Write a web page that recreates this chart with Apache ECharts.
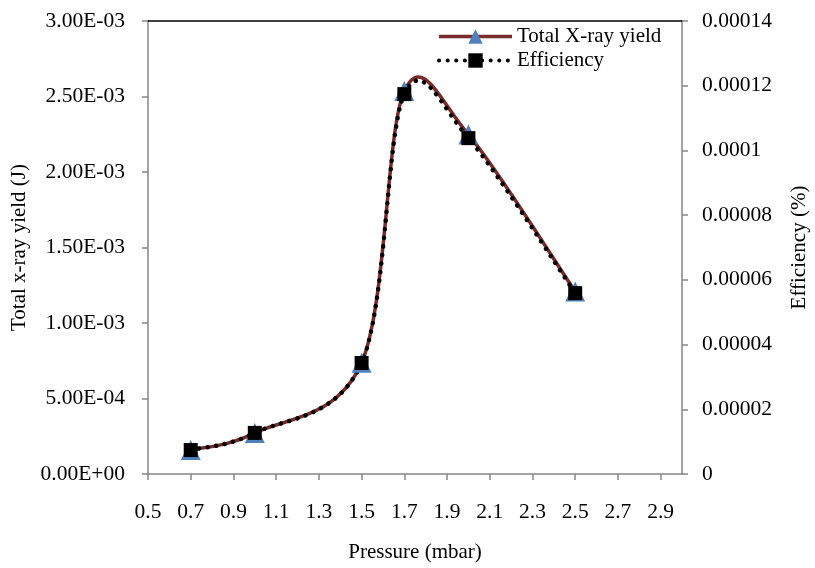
<!DOCTYPE html>
<html>
<head>
<meta charset="utf-8">
<script src="https://cdn.jsdelivr.net/npm/echarts@6/dist/echarts.min.js"></script>
<style>html,body{margin:0;padding:0;background:#fff}#c{width:815px;height:568px}</style>
</head>
<body>
<div id="c"></div>
<script>
// Data
const pressure = [0.7, 1.0, 1.5, 1.7, 2.0, 2.5];
const xrayYield = [1.59e-4, 2.72e-4, 7.37e-4, 2.537e-3, 2.248e-3, 1.208e-3];
const efficiency = [7.4e-6, 1.27e-5, 3.43e-5, 1.174e-4, 1.038e-4, 5.59e-5];
const seriesNames = ['Total X-ray yield', 'Efficiency'];
const axisTitles = ['Pressure (mbar)', 'Total x-ray yield (J)', 'Efficiency (%)'];

const FONT = 'Liberation Serif';
const txt = {fontFamily: FONT, fontSize: 21, color: '#000'};
const tickTxt = {fontFamily: FONT, fontSize: 21.5, color: '#000'};
const gray = '#868686';
const YIELD_LINE = '#772B2B', TRI = '#4F81BD';
const DOTS = [0.1, 8.5];

function fmtExp(v) {
  const s = v.toExponential(2).toUpperCase();
  return s.replace(/E([+-])(\d)$/, 'E$10$2');
}
function fmtRight(v) {
  if (Math.abs(v) < 1e-12) return '0';
  return v.toFixed(5).replace(/0+$/, '').replace(/\.$/, '');
}

// Excel-like smoothed curve (Catmull-Rom Bezier) through the data points,
// positioned with the chart's own axes via api.coord
function smoothRender(xs, ys, style) {
  return function (params, api) {
    if (params.dataIndex !== 0) return null;
    const P = xs.map((x, i) => api.coord([x, ys[i]]));
    let d = 'M' + P[0][0] + ' ' + P[0][1];
    for (let i = 0; i < P.length - 1; i++) {
      const p0 = P[Math.max(i - 1, 0)], p1 = P[i], p2 = P[i + 1], p3 = P[Math.min(i + 2, P.length - 1)];
      const c1 = [p1[0] + (p2[0] - p0[0]) / 6, p1[1] + (p2[1] - p0[1]) / 6];
      const c2 = [p2[0] - (p3[0] - p1[0]) / 6, p2[1] - (p3[1] - p1[1]) / 6];
      d += ' C' + c1[0] + ' ' + c1[1] + ' ' + c2[0] + ' ' + c2[1] + ' ' + p2[0] + ' ' + p2[1];
    }
    return {type: 'path', shape: {pathData: d}, style: Object.assign({fill: null}, style)};
  };
}

const chart = echarts.init(document.getElementById('c'), null, {renderer: 'canvas'});
chart.setOption({
  animation: false,
  backgroundColor: '#fff',
  textStyle: {fontFamily: FONT},
  grid: {left: 148, right: 133, top: 21, bottom: 94, containLabel: false, outerBoundsMode: 'none'},
  legend: {
    orient: 'vertical', left: 432, top: 21,
    itemWidth: 73, itemHeight: 18, itemGap: 3,
    textStyle: Object.assign({}, txt, {fontSize: 21}),
    data: [
      {name: seriesNames[0], lineStyle: {color: YIELD_LINE, width: 3.5, opacity: 1, type: 'solid'}},
      {name: seriesNames[1], lineStyle: {color: '#000', width: 4, opacity: 1, type: DOTS, cap: 'round'}}
    ]
  },
  xAxis: [{
    type: 'value', min: 0.5, max: 3.0, interval: 0.2,
    name: axisTitles[0], nameLocation: 'middle', nameGap: 68,
    nameTextStyle: txt,
    axisLine: {show: true, lineStyle: {color: gray, width: 1.5}},
    axisTick: {show: true, length: 6, lineStyle: {color: gray, width: 1.5}},
    axisLabel: Object.assign({}, tickTxt, {margin: 27, showMaxLabel: false,
      formatter: v => v.toFixed(1)}),
    splitLine: {show: false}
  }, {
    type: 'value', min: 0.5, max: 3.0, position: 'top',
    axisLine: {show: true, onZero: false, lineStyle: {color: '#000', width: 1.5}},
    axisTick: {show: false}, axisLabel: {show: false}, splitLine: {show: false}
  }],
  yAxis: [{
    type: 'value', min: 0, max: 0.003, interval: 0.0005,
    name: axisTitles[1], nameLocation: 'middle', nameGap: 117, nameRotate: 90,
    nameTextStyle: txt,
    axisLine: {show: true, lineStyle: {color: gray, width: 1.5}},
    axisTick: {show: true, length: 6, lineStyle: {color: gray, width: 1.5}},
    axisLabel: Object.assign({}, tickTxt, {margin: 23, formatter: fmtExp}),
    splitLine: {show: false}
  }, {
    type: 'value', min: 0, max: 0.00014, interval: 0.00002, position: 'right',
    name: axisTitles[2], nameLocation: 'middle', nameGap: 107, nameRotate: 90,
    nameTextStyle: txt,
    axisLine: {show: true, lineStyle: {color: gray, width: 1.5}},
    axisTick: {show: true, length: 6, lineStyle: {color: gray, width: 1.5}},
    axisLabel: Object.assign({}, tickTxt, {margin: 20, formatter: fmtRight}),
    splitLine: {show: false}
  }],
  series: [{
    name: seriesNames[0], type: 'line', xAxisIndex: 0, yAxisIndex: 0, z: 4,
    data: pressure.map((p, i) => [p, xrayYield[i]]),
    symbol: 'triangle', symbolSize: [20, 20],
    itemStyle: {color: TRI},
    lineStyle: {color: YIELD_LINE, width: 0, opacity: 0}
  }, {
    name: seriesNames[1], type: 'line', xAxisIndex: 0, yAxisIndex: 1, z: 5,
    data: pressure.map((p, i) => [p, efficiency[i]]),
    symbol: 'rect', symbolSize: 14,
    itemStyle: {color: '#000'},
    lineStyle: {color: '#000', width: 0, opacity: 0}
  }, {
    name: seriesNames[0] + ' curve', type: 'custom', xAxisIndex: 0, yAxisIndex: 0, z: 2,
    data: pressure.map((p, i) => [p, xrayYield[i]]),
    encode: {x: 0, y: 1},
    renderItem: smoothRender(pressure, xrayYield, {stroke: YIELD_LINE, lineWidth: 3.5})
  }, {
    name: seriesNames[1] + ' curve', type: 'custom', xAxisIndex: 0, yAxisIndex: 1, z: 3,
    data: pressure.map((p, i) => [p, efficiency[i]]),
    encode: {x: 0, y: 1},
    renderItem: smoothRender(pressure, efficiency, {stroke: '#000', lineWidth: 4.5, lineDash: DOTS, lineCap: 'round'})
  }]
});
</script>
</body>
</html>
